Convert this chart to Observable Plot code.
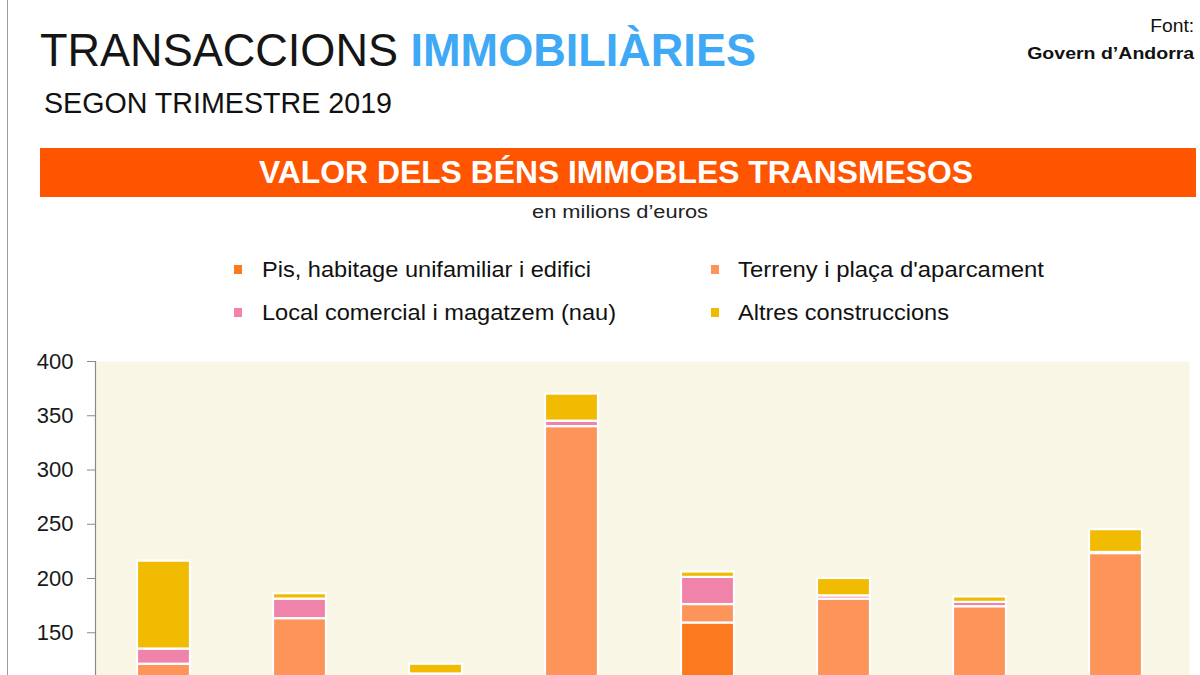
<!DOCTYPE html>
<html>
<head>
<meta charset="utf-8">
<script src="https://cdn.jsdelivr.net/npm/d3@7"></script>
<script src="https://cdn.jsdelivr.net/npm/@observablehq/plot@0.6"></script>
<style>
  html, body { margin: 0; padding: 0; background: #fff; }
  body { width: 1200px; height: 675px; overflow: hidden; position: relative; font-family: "Liberation Sans", Arial, sans-serif; color: #111; }
  .border { position: absolute; left: 7px; top: 0; width: 1px; height: 675px; background: #9a9a9a; }
  .t { position: absolute; white-space: nowrap; transform-origin: 0 0; }
  .r { transform-origin: 100% 0; }
  #title { left: 40px; top: 26px; font-size: 47px; line-height: 47px; color: #151515; }
  #title b { color: #3fa9f5; font-weight: bold; }
  #subtitle { left: 44px; top: 88px; font-size: 29.5px; line-height: 29.5px; }
  #font1 { right: 6px; top: 17px; font-size: 18.5px; line-height: 18.5px; }
  #font2 { right: 6px; top: 45px; font-size: 16.5px; line-height: 16.5px; font-weight: bold; }
  #band { position: absolute; left: 40px; top: 148px; width: 1156px; height: 49px; background: #ff5500; }
  #bandtext { left: 259px; top: 156px; font-size: 32px; line-height: 32px; font-weight: bold; color: #fff; }
  #units { left: 532px; top: 203px; font-size: 18px; line-height: 18px; color: #222; }
  .mk { position: absolute; width: 8px; height: 9px; }
  .lt { font-size: 22.5px; line-height: 22.5px; }
  #chart { position: absolute; left: 0; top: 340px; }
</style>
</head>
<body>
<div class="border"></div>
<div id="title" class="t" data-w="716">TRANSACCIONS <b>IMMOBILIÀRIES</b></div>
<div id="subtitle" class="t" data-w="348">SEGON TRIMESTRE 2019</div>
<div id="font1" class="t r" data-w="44">Font:</div>
<div id="font2" class="t r" data-w="167">Govern d’Andorra</div>
<div id="band"></div>
<div id="bandtext" class="t" data-w="714">VALOR DELS BÉNS IMMOBLES TRANSMESOS</div>
<div id="units" class="t" data-w="176">en milions d’euros</div>
<div id="legend"></div>
<div id="chart"></div>
<script>
// Categories (x-axis labels fall below the visible crop of the reference)
const categories = ["2T 2012", "2T 2013", "2T 2014", "2T 2015", "2T 2016", "2T 2017", "2T 2018", "2T 2019"];
const seriesNames = ["Pis, habitage unifamiliar i edifici", "Terreny i plaça d'aparcament", "Local comercial i magatzem (nau)", "Altres construccions"];
const seriesColors = ["#fb7a1e", "#fd955b", "#f083aa", "#f1bb02"];
// Values in millions of euros (bottom segments estimated where hidden by the crop)
const pis     = [75, 90, 60, 100, 159, 95, 85, 100];
const terreny = [46, 73, 50, 240, 17, 86, 89, 123];
const local   = [14, 18, 2, 5, 25, 3, 4, 1];
const altres  = [81, 5, 9, 25, 5, 16, 5, 21];
const yTicks = [0, 50, 100, 150, 200, 250, 300, 350, 400];

const seriesValues = [pis, terreny, local, altres];
const data = [];
categories.forEach((c, i) => {
  seriesNames.forEach((s, j) => data.push({cat: c, serie: s, value: seriesValues[j][i]}));
});

// Legend (HTML, above the SVG)
const legend = document.getElementById("legend");
const legItems = [
  {mk: [234, 265], tx: [262, 259], w: 329},
  {mk: [711, 265], tx: [738, 259], w: 306},
  {mk: [234, 308], tx: [262, 302], w: 354},
  {mk: [711, 308], tx: [738, 302], w: 211}
];
seriesNames.forEach((s, j) => {
  const it = legItems[j];
  const m = document.createElement("div");
  m.className = "mk";
  m.style.left = it.mk[0] + "px"; m.style.top = it.mk[1] + "px";
  m.style.background = seriesColors[j];
  legend.appendChild(m);
  const t = document.createElement("div");
  t.className = "t lt";
  t.style.left = it.tx[0] + "px"; t.style.top = it.tx[1] + "px";
  t.dataset.w = it.w;
  t.textContent = s;
  legend.appendChild(t);
});

// Fit text widths (condensed look) by horizontal scaling
document.querySelectorAll("[data-w]").forEach(el => {
  const w = el.getBoundingClientRect().width;
  const target = +el.dataset.w;
  if (w > 0) el.style.transform = `scaleX(${target / w})`;
});

const chart = Plot.plot({
  width: 1200,
  height: 495,
  marginTop: 21,
  marginLeft: 95,
  marginRight: 11,
  marginBottom: 40,
  style: {fontFamily: "'Liberation Sans', Arial, sans-serif", background: "transparent", overflow: "visible"},
  x: {domain: categories, range: [95, 1185], paddingInner: 0.61, paddingOuter: 0.305, axis: null},
  y: {domain: [0, 400], ticks: yTicks, label: null},
  color: {domain: seriesNames, range: seriesColors},
  marks: [
    Plot.frame({fill: "#faf6e5", stroke: "none", style: {filter: "drop-shadow(2px -1px 2px rgba(0,0,0,0.10))"}}),
    Plot.frame({anchor: "left", stroke: "#8a8a8a", strokeWidth: 1.2}),
    Plot.axisY({ticks: yTicks, tickSize: 8, tickPadding: 14, fontSize: 22, stroke: "#8a8a8a", fill: "#1a1a1a"}),
    Plot.barY(data, Plot.stackY({
      x: "cat", y: "value", fill: "serie", order: seriesNames,
      stroke: "#ffffff", strokeWidth: 2.2,
      style: {filter: "drop-shadow(2px 1px 1.5px rgba(0,0,0,0.22))"}
    }))
  ]
});
document.getElementById("chart").appendChild(chart);
</script>
</body>
</html>
